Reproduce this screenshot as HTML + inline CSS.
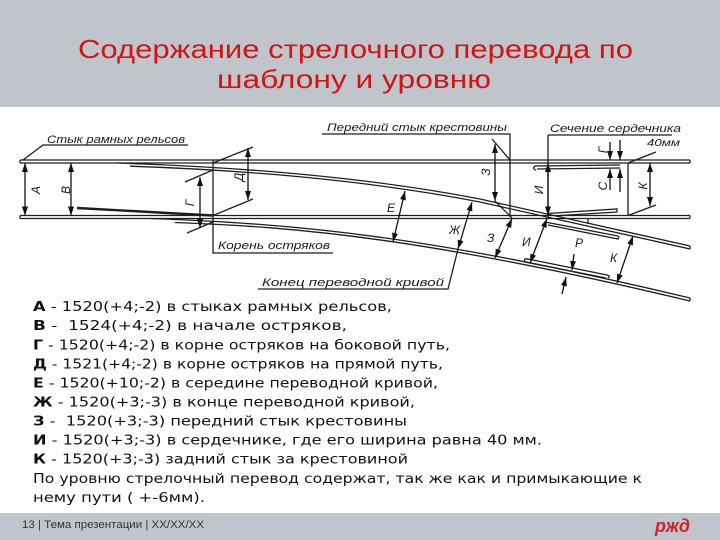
<!DOCTYPE html>
<html><head><meta charset="utf-8"><style>
html,body{margin:0;padding:0;background:#fff;}
svg{display:block;}
.t{font-family:"DejaVu Sans","Liberation Sans",sans-serif;font-size:13px;fill:#111;white-space:pre;}
.d{font-family:"Liberation Sans","DejaVu Sans",sans-serif;font-style:italic;font-size:10px;fill:#1a1a1a;}
.dl{font-family:"Liberation Sans","DejaVu Sans",sans-serif;font-style:italic;font-size:11px;fill:#1a1a1a;}
.dm{font-family:"Liberation Sans","DejaVu Sans",sans-serif;font-style:italic;font-size:12px;fill:#1a1a1a;}
</style></head><body>
<svg width="720" height="540" viewBox="0 0 720 540" xmlns="http://www.w3.org/2000/svg">
<defs>
<marker id="a" viewBox="0 0 9 6" refX="9" refY="3" markerWidth="9" markerHeight="6" markerUnits="userSpaceOnUse" orient="auto-start-reverse"><path d="M0,0 L9,3 L0,6 z" fill="#111"/></marker>
</defs>
<rect width="720" height="540" fill="#fff"/>
<rect width="720" height="107" fill="#c0c5cc"/>
<text x="78" y="58" textLength="555" lengthAdjust="spacingAndGlyphs" font-family="Liberation Sans, DejaVu Sans, sans-serif" font-size="26" fill="#d01515">Содержание стрелочного перевода по</text>
<text x="217" y="88" textLength="274" lengthAdjust="spacingAndGlyphs" font-family="Liberation Sans, DejaVu Sans, sans-serif" font-size="26" fill="#d01515">шаблону и уровню</text>

<!-- diagram -->
<g stroke="#1e1e1e" stroke-width="1.3" fill="none">
<path d="M20,160 H690 M20,163 H690 M20,160 V163 M690,160 V163"/>
<path d="M20,215.5 H690 M20,218.5 H690 M20,215.5 V218.5 M690,215.5 V218.5"/>
<path d="M117,163 Q330,170 480,199 L690,246"/>
<path transform="translate(0,3)" d="M130,163.2 Q330,170 480,199 L690,246"/>
<path d="M690,246 V249"/>
<path d="M150,218.5 C300,224 430,236 690,298"/>
<path transform="translate(0,3)" d="M175,219.5 C300,224 430,236 690,298"/>
<path d="M690,298 V301"/>
<path d="M77,208 L213,215.5" stroke-width="2.4"/>
<path d="M536,170 q-4,-1 -1,-4 L620,165 M537,169 L620,168"/>
<path d="M547,213.5 L617,209 L617,212 L560,215.5"/>
<path d="M545,222 L618,236 M548,225 L618,239 L619,236"/>
<path d="M588,218.5 V224"/>
<path d="M528,259 q-5,-1 -3,3 L606,278 M528,259 L607,275 q4,1 1,3"/>
<!-- leaders -->
<path d="M23,160 L43,145 H188"/>
<path d="M185,182 L213,170 M187,233 L213,222"/>
<path d="M213,163 L253,147 M213,215.5 L253,199"/>
<path d="M213,160 V253 H333"/>
<path d="M258,289 H448 L458,249"/>
<path d="M322,134 H510 V217"/>
<path d="M492,139 L510,160 M495,201 L512,218"/>
<path d="M548,135 H672 M548,135 V217"/>
<path d="M628,163 V215.5 M628,163 L656,152 M628,215.5 L656,205"/>
</g>
<g stroke="#111" stroke-width="1.3" fill="none" marker-start="url(#a)" marker-end="url(#a)">
<path d="M25,163 V215.5"/>
<path d="M71,163 V215.5"/>
<path d="M200,177 V228"/>
<path d="M248,148 V200"/>
<path d="M405,191 L393,242"/>
<path d="M472,202 L458,249"/>
<path d="M495,144 V201"/>
<path d="M512,218.5 L495,258"/>
<path d="M548,163 V215.5"/>
<path d="M547,218.5 L530,263"/>
<path d="M650,163 V206"/>
<path d="M633,236 L617,283"/>
</g>
<g stroke="#111" stroke-width="1.3" fill="none" marker-end="url(#a)">
<path d="M574,254 L572,270"/>
<path d="M562,294 L566,277"/>
<path d="M610,142 V160"/>
<path d="M620,140 V160"/>
<path d="M610,190 V169"/>
<path d="M620,192 V169"/>
</g>
<text class="dl" x="47" y="143" textLength="138" lengthAdjust="spacingAndGlyphs">Стык рамных рельсов</text>
<text class="dl" x="218" y="249" textLength="112" lengthAdjust="spacingAndGlyphs">Корень остряков</text>
<text class="dl" x="262" y="286" textLength="182" lengthAdjust="spacingAndGlyphs">Конец переводной кривой</text>
<text class="dl" x="327" y="131" textLength="180" lengthAdjust="spacingAndGlyphs">Передний стык крестовины</text>
<text class="dl" x="550" y="132" textLength="131" lengthAdjust="spacingAndGlyphs">Сечение сердечника</text>
<text class="d" x="647" y="146" textLength="33" lengthAdjust="spacingAndGlyphs">40мм</text>
<g class="dm">
<text transform="translate(40,190) rotate(-90)" text-anchor="middle">А</text>
<text transform="translate(70,190) rotate(-90)" text-anchor="middle">В</text>
<text transform="translate(194,203) rotate(-90)" text-anchor="middle">Г</text>
<text transform="translate(243,177) rotate(-90)" text-anchor="middle">Д</text>
<text transform="translate(490,172) rotate(-90)" text-anchor="middle">З</text>
<text transform="translate(543,190) rotate(-90)" text-anchor="middle">И</text>
<text transform="translate(647,186) rotate(-90)" text-anchor="middle">К</text>
<text transform="translate(607,150) rotate(-90)" text-anchor="middle">Г</text>
<text transform="translate(607,186) rotate(-90)" text-anchor="middle">С</text>
<text x="387" y="212">Е</text>
<text x="449" y="234">Ж</text>
<text x="487" y="242">З</text>
<text x="522" y="246">И</text>
<text x="575" y="247">Р</text>
<text x="610" y="262">К</text>
</g>

<!-- text block -->
<text class="t" x="33" y="311" textLength="359" lengthAdjust="spacingAndGlyphs"><tspan font-weight="bold">А</tspan> - 1520(+4;-2) в стыках рамных рельсов,</text>
<text class="t" x="33" y="330" textLength="314" lengthAdjust="spacingAndGlyphs"><tspan font-weight="bold">В</tspan> -  1524(+4;-2) в начале остряков,</text>
<text class="t" x="33" y="349.3" textLength="417" lengthAdjust="spacingAndGlyphs"><tspan font-weight="bold">Г</tspan> - 1520(+4;-2) в корне остряков на боковой путь,</text>
<text class="t" x="33" y="368.5" textLength="410" lengthAdjust="spacingAndGlyphs"><tspan font-weight="bold">Д</tspan> - 1521(+4;-2) в корне остряков на прямой путь,</text>
<text class="t" x="33" y="387.5" textLength="405" lengthAdjust="spacingAndGlyphs"><tspan font-weight="bold">Е</tspan> - 1520(+10;-2) в середине переводной кривой,</text>
<text class="t" x="33" y="406.5" textLength="382" lengthAdjust="spacingAndGlyphs"><tspan font-weight="bold">Ж</tspan> - 1520(+3;-3) в конце переводной кривой,</text>
<text class="t" x="33" y="425.5" textLength="374" lengthAdjust="spacingAndGlyphs"><tspan font-weight="bold">З</tspan> -  1520(+3;-3) передний стык крестовины</text>
<text class="t" x="33" y="444.5" textLength="509" lengthAdjust="spacingAndGlyphs"><tspan font-weight="bold">И</tspan> - 1520(+3;-3) в сердечнике, где его ширина равна 40 мм.</text>
<text class="t" x="33" y="463.5" textLength="375" lengthAdjust="spacingAndGlyphs"><tspan font-weight="bold">К</tspan> - 1520(+3;-3) задний стык за крестовиной</text>
<text class="t" x="33" y="483" textLength="609" lengthAdjust="spacingAndGlyphs">По уровню стрелочный перевод содержат, так же как и примыкающие к</text>
<text class="t" x="33" y="502" textLength="172" lengthAdjust="spacingAndGlyphs">нему пути ( +-6мм).</text>

<!-- footer -->
<rect x="0" y="513" width="720" height="27" fill="#c0c5cc"/>
<text x="22" y="528" textLength="182" lengthAdjust="spacingAndGlyphs" font-family="Liberation Sans, DejaVu Sans, sans-serif" font-size="11" fill="#333">13 | Тема презентации | XX/XX/XX</text>
<text x="655" y="532" textLength="35" lengthAdjust="spacingAndGlyphs" font-family="Liberation Sans, DejaVu Sans, sans-serif" font-size="18" font-weight="bold" font-style="italic" fill="#d4202c">ржд</text>
</svg>
</body></html>
